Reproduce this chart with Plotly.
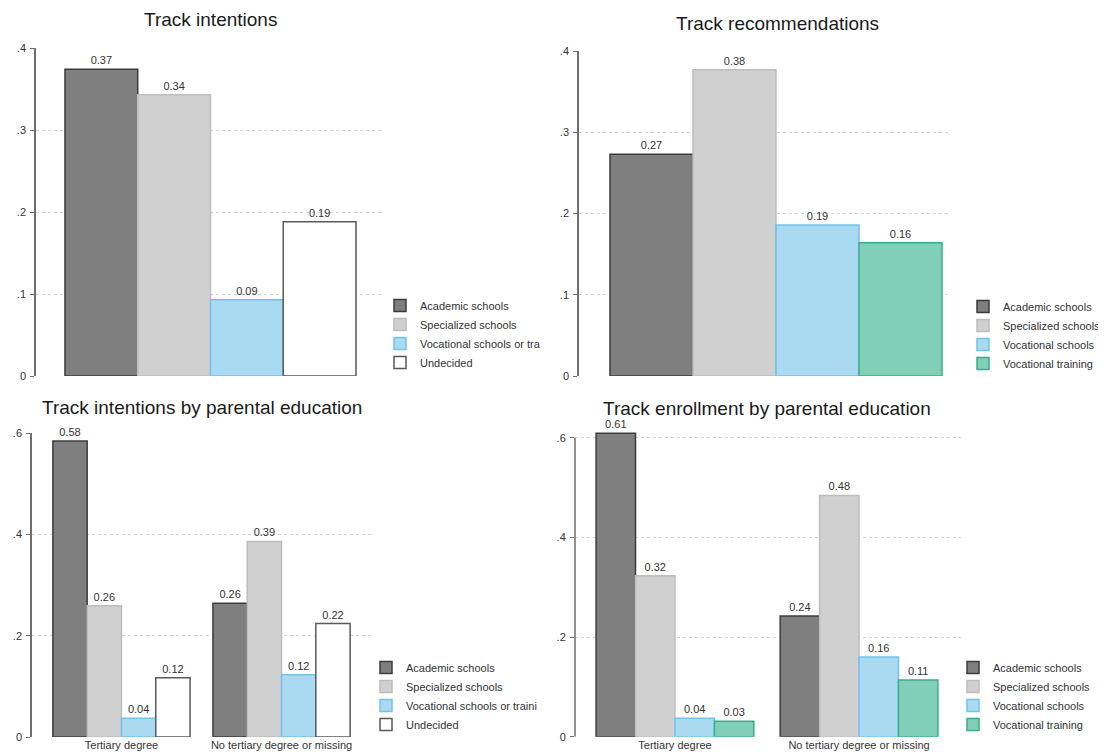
import plotly.graph_objects as go

# page is rendered with an 8px body margin; coordinates below are page pixels
OFF = 8
FW, FH = 1106 - OFF, 756 - OFF
FONT = "Liberation Sans, Arial, sans-serif"

# ---------------- data ----------------
series_p1 = ["Academic schools", "Specialized schools", "Vocational schools or tra", "Undecided"]
values_p1 = [0.374, 0.343, 0.093, 0.188]

series_p2 = ["Academic schools", "Specialized schools", "Vocational schools", "Vocational training"]
values_p2 = [0.273, 0.377, 0.186, 0.164]

groups = ["Tertiary degree", "No tertiary degree or missing"]

series_p3 = ["Academic schools", "Specialized schools", "Vocational schools or traini", "Undecided"]
p3_academic = [0.584, 0.264]
p3_specialized = [0.259, 0.386]
p3_vocational = [0.037, 0.123]
p3_undecided = [0.117, 0.224]

series_p4 = ["Academic schools", "Specialized schools", "Vocational schools", "Vocational training"]
p4_academic = [0.609, 0.242]
p4_specialized = [0.323, 0.484]
p4_vocational = [0.037, 0.160]
p4_training = [0.031, 0.114]

titles = ["Track intentions", "Track recommendations",
          "Track intentions by parental education", "Track enrollment by parental education"]
ticks_04 = [0, 0.1, 0.2, 0.3, 0.4]
ticks_04_text = ["0", ".1", ".2", ".3", ".4"]
ticks_06 = [0, 0.2, 0.4, 0.6]
ticks_06_text = ["0", ".2", ".4", ".6"]

# ---------------- styles ----------------
STY = {
    "acad": ("#7f7f7f", "#3c3c3c"),
    "spec": ("#d0d0d0", "#bdbdbd"),
    "voc": ("#aad9f2", "#74c2e8"),
    "und": ("#ffffff", "#5a5a5a"),
    "train": ("#80cfb6", "#3aad8b"),
}

def px_x(p):
    return (p - OFF) / FW

def px_y(p):
    return 1 - (p - OFF) / FH

fig = go.Figure()

def add_bar(name, x, y, key, xa, ya, legend):
    fill, line = STY[key]
    fig.add_trace(go.Bar(
        name=name, x=x, y=y, xaxis=xa, yaxis=ya, legend=legend,
        marker=dict(color=fill, line=dict(color=line, width=1.5)),
        texttemplate="%{y:.2f}", textposition="outside",
        textfont=dict(family=FONT, size=11, color="#333333"),
        cliponaxis=False, offsetgroup=name,
    ))

single = ["All"]
keys1 = ["acad", "spec", "voc", "und"]
for nm, v, k in zip(series_p1, values_p1, keys1):
    add_bar(nm, single, [v], k, "x", "y", "legend")

keys2 = ["acad", "spec", "voc", "train"]
for nm, v, k in zip(series_p2, values_p2, keys2):
    add_bar(nm, single, [v], k, "x2", "y2", "legend2")

for nm, v, k in zip(series_p3, [p3_academic, p3_specialized, p3_vocational, p3_undecided], keys1):
    add_bar(nm, groups, v, k, "x3", "y3", "legend3")

for nm, v, k in zip(series_p4, [p4_academic, p4_specialized, p4_vocational, p4_training], keys2):
    add_bar(nm, groups, v, k, "x4", "y4", "legend4")

def yax(anchor, domain, rng, tv, tt, showline=True):
    return dict(anchor=anchor, domain=domain, range=rng, tickvals=tv, ticktext=tt,
                showgrid=True, gridcolor="#d4d4d4", griddash="dot", gridwidth=1,
                zeroline=False, showline=showline, linecolor="#6e6e6e", linewidth=1.5,
                ticks="outside", ticklen=4, tickcolor="#6e6e6e", tickwidth=1,
                ticklabelstandoff=2, automargin=False,
                tickfont=dict(family=FONT, size=11, color="#333333"), fixedrange=True)

def xax(anchor, domain, rng, labels):
    return dict(anchor=anchor, domain=domain, range=rng, type="category", showgrid=False,
                zeroline=False, showline=False, ticks="", ticklabelstandoff=0,
                showticklabels=labels, automargin=False,
                tickfont=dict(family=FONT, size=11, color="#333333"), fixedrange=True)

fig.update_layout(
    template="none",
    width=FW, height=FH, margin=dict(l=0, r=0, t=0, b=0, pad=0, autoexpand=False),
    paper_bgcolor="white", plot_bgcolor="white",
    barmode="group", bargap=0.143, bargroupgap=0,
    font=dict(family=FONT, color="#333333"),
    xaxis=xax("y", [px_x(36), px_x(383)], [-0.5138, 0.508], False),
    yaxis=yax("x", [px_y(376), px_y(48)], [0, 0.4], ticks_04, ticks_04_text),
    xaxis2=xax("y2", [px_x(579), px_x(948)], [-0.5085, 0.444], False),
    yaxis2=yax("x2", [px_y(376), px_y(51)], [0, 0.4], ticks_04, ticks_04_text),
    xaxis3=xax("y3", [px_x(32), px_x(371)], [-0.559, 1.559], True),
    yaxis3=yax("x3", [px_y(737), px_y(433)], [0, 0.6], ticks_06, ticks_06_text),
    xaxis4=xax("y4", [px_x(575), px_x(961)], [-0.543, 1.554], True),
    yaxis4=yax("x4", [px_y(736.7), px_y(427.7)], [0, 0.62], ticks_06, ticks_06_text, showline=False),
    showlegend=True,
)

leg_common = dict(xanchor="left", yanchor="top", bgcolor="rgba(0,0,0,0)",
                  font=dict(family=FONT, size=11, color="#333333"),
                  itemclick=False, itemdoubleclick=False, tracegroupgap=0)
fig.update_layout(
    legend=dict(x=px_x(380), y=px_y(291), **leg_common),
    legend2=dict(x=px_x(963), y=px_y(292), **leg_common),
    legend3=dict(x=px_x(366), y=px_y(653), **leg_common),
    legend4=dict(x=px_x(953), y=px_y(653), **leg_common),
)

# axis line for panel 4 (from 0 to the .6 tick)
fig.add_shape(type="line", xref="x4 domain", yref="y4", x0=0, x1=0, y0=0, y1=0.6,
              line=dict(color="#6e6e6e", width=1.5))

title_pos = [(210, 20), (777, 24), (202, 407), (767, 408)]
for t, (cx, cy) in zip(titles, title_pos):
    fig.add_annotation(text=t, x=px_x(cx), y=px_y(cy), xref="paper", yref="paper",
                       showarrow=False, xanchor="center", yanchor="middle",
                       font=dict(family=FONT, size=19, color="#1a1a1a"))

fig.write_html("out.html")
